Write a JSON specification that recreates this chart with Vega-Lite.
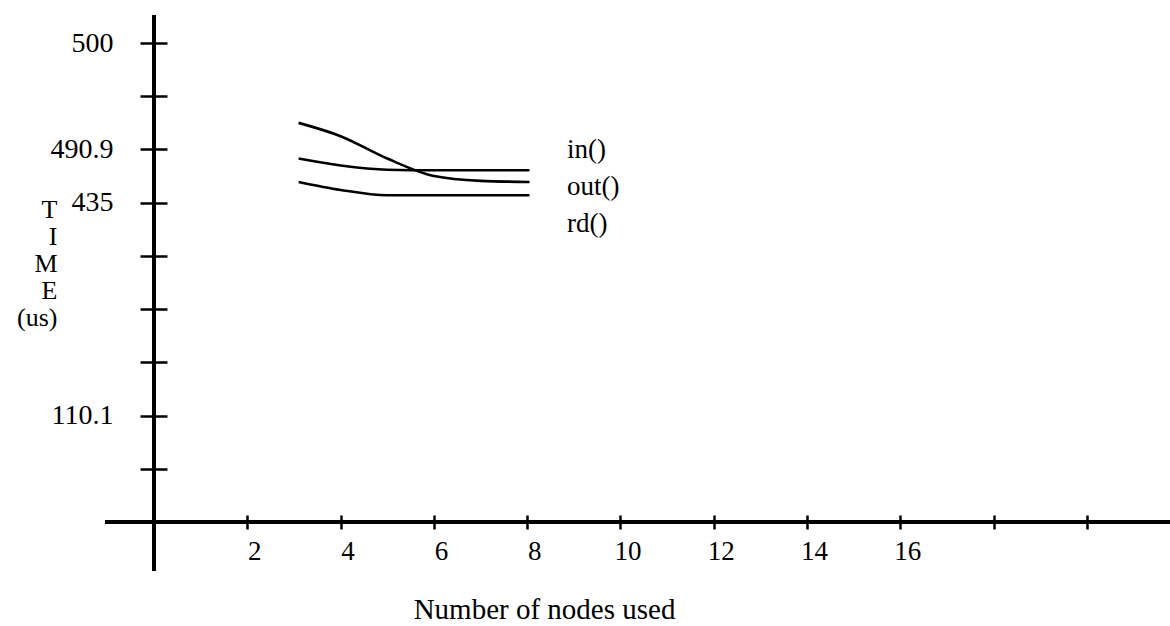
{
  "$schema": "https://vega.github.io/schema/vega-lite/v6.json",
  "width": 1065,
  "height": 556,
  "autosize": {"type": "none"},
  "padding": {"left": 105, "top": 15, "right": 0, "bottom": 55},
  "background": "white",
  "config": {
    "view": {"stroke": null},
    "font": "Liberation Serif",
    "axis": {
      "grid": false,
      "domain": false,
      "tickColor": "black",
      "tickWidth": 2.5,
      "labelColor": "black",
      "labelFont": "Liberation Serif",
      "titleFont": "Liberation Serif",
      "titleColor": "black",
      "titleFontWeight": "normal"
    },
    "legend": {
      "labelFont": "Liberation Serif",
      "labelColor": "black"
    }
  },
  "data": {
    "values": [
      {"nodes": 3.1, "time": 6.83, "series": "in()"},
      {"nodes": 4, "time": 6.70, "series": "in()"},
      {"nodes": 5, "time": 6.62, "series": "in()"},
      {"nodes": 6, "time": 6.61, "series": "in()"},
      {"nodes": 7, "time": 6.61, "series": "in()"},
      {"nodes": 8.05, "time": 6.61, "series": "in()"},
      {"nodes": 3.1, "time": 7.50, "series": "out()"},
      {"nodes": 4, "time": 7.25, "series": "out()"},
      {"nodes": 5, "time": 6.83, "series": "out()"},
      {"nodes": 6, "time": 6.50, "series": "out()"},
      {"nodes": 7, "time": 6.41, "series": "out()"},
      {"nodes": 8.05, "time": 6.39, "series": "out()"},
      {"nodes": 3.1, "time": 6.39, "series": "rd()"},
      {"nodes": 4, "time": 6.24, "series": "rd()"},
      {"nodes": 5, "time": 6.14, "series": "rd()"},
      {"nodes": 6, "time": 6.14, "series": "rd()"},
      {"nodes": 7, "time": 6.14, "series": "rd()"},
      {"nodes": 8.05, "time": 6.14, "series": "rd()"}
    ]
  },
  "layer": [
    {
      "mark": {"type": "line", "strokeWidth": 2.6, "interpolate": "monotone"},
      "encoding": {
        "x": {
          "field": "nodes",
          "type": "quantitative",
          "scale": {"domain": [-1.05, 21.78], "nice": false, "zero": false},
          "axis": {
            "values": [2, 4, 6, 8, 10, 12, 14, 16, 18, 20],
            "labelExpr": "datum.value <= 16 ? datum.label : ''",
            "offset": -56,
            "tickSize": 14,
            "labelPadding": 9,
            "labelOffset": 7,
            "labelFontSize": 27,
            "title": "Number of nodes used",
            "titleFontSize": 29,
            "titleX": 439,
            "titleY": 103,
            "titleAlign": "center",
            "titleBaseline": "alphabetic"
          }
        },
        "y": {
          "field": "time",
          "type": "quantitative",
          "scale": {"domain": [-0.921, 9.527], "nice": false, "zero": false},
          "axis": {
            "values": [1, 2, 3, 4, 5, 6, 7, 8, 9],
            "labelExpr": "datum.value == 9 ? '500' : datum.value == 7 ? '490.9' : datum.value == 6 ? '435' : datum.value == 2 ? '110.1' : ''",
            "offset": -62,
            "tickSize": 27,
            "labelPadding": 27,
            "labelFontSize": 28,
            "labelDy": -3,
            "title": ["T", "I", "M", "E", "(us)"],
            "titleAngle": 0,
            "titleFontSize": 26,
            "titleLineHeight": 27,
            "titleAlign": "right",
            "titleBaseline": "alphabetic",
            "titleX": -110,
            "titleY": 202
          }
        },
        "color": {
          "field": "series",
          "type": "nominal",
          "scale": {"range": ["black", "black", "black"]},
          "legend": {
            "orient": "none",
            "legendX": 435,
            "legendY": 121,
            "title": null,
            "symbolSize": 0,
            "symbolStrokeWidth": 0,
            "symbolOpacity": 0,
            "labelOffset": 0,
            "labelFontSize": 27,
            "rowPadding": 9
          }
        }
      }
    },
    {
      "mark": {"type": "rule", "color": "black", "strokeWidth": 2.5},
      "encoding": {
        "x": {"datum": 0, "type": "quantitative"}
      }
    },
    {
      "mark": {"type": "rule", "color": "black", "strokeWidth": 2.5},
      "encoding": {
        "y": {"datum": 0, "type": "quantitative"}
      }
    }
  ]
}
